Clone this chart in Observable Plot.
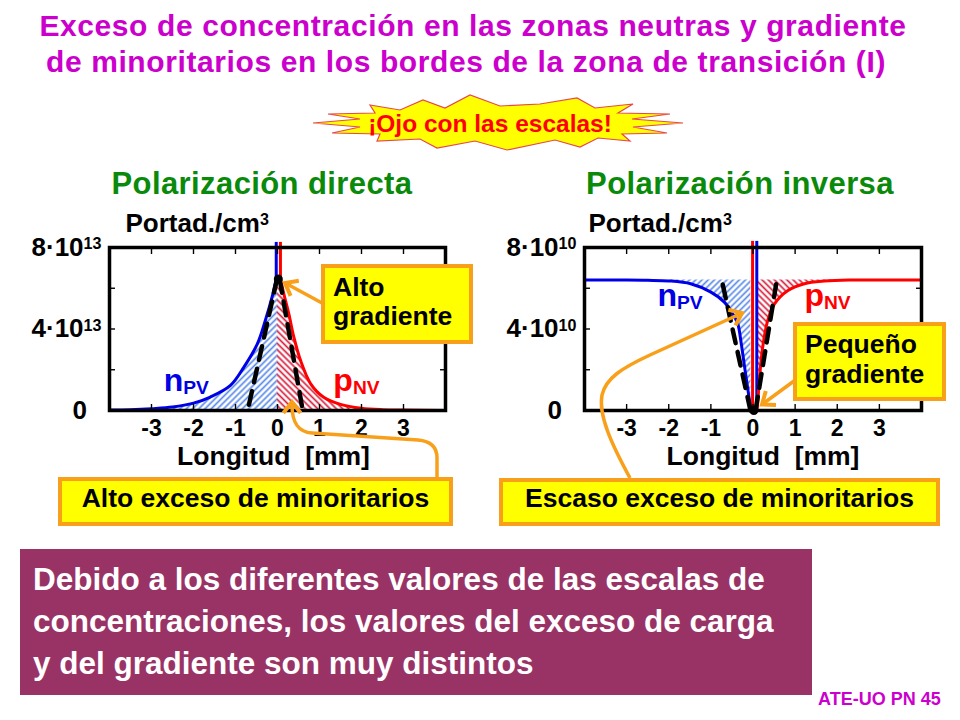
<!DOCTYPE html>
<html lang="es">
<head>
<meta charset="utf-8">
<title>Exceso de concentración en las zonas neutras</title>
<script src="https://cdn.jsdelivr.net/npm/d3@7"></script>
<script src="https://cdn.jsdelivr.net/npm/@observablehq/plot@0.6"></script>
<style>
  html,body{margin:0;padding:0;background:#fff;}
  #slide{position:relative;width:960px;height:720px;overflow:hidden;background:#fff;
    font-family:Arial,"Liberation Sans",Helvetica,sans-serif;font-weight:bold;}
  .abs{position:absolute;}
  .title{color:#CC00CC;font-size:30px;line-height:36px;white-space:nowrap;text-align:center;letter-spacing:0.6px;}
  .pol{color:#0A8A0A;font-size:31px;line-height:36px;text-align:center;white-space:nowrap;letter-spacing:0.4px;}
  .box{position:absolute;box-sizing:border-box;background:#FFFF00;border:4px solid #F9A01B;color:#000;white-space:nowrap;font-size:26.5px;}
  .chart{position:absolute;width:480px;height:275px;}
  .chart svg{background:transparent !important;overflow:visible;}
  #purple{position:absolute;left:20px;top:549px;width:792px;height:146px;box-sizing:border-box;background:#993366;color:#fff;
    font-size:31.5px;line-height:42px;padding:9px 0 0 13px;white-space:nowrap;}
  #footer{position:absolute;left:818px;top:689px;font-size:18px;line-height:20px;color:#CC00CC;white-space:nowrap;}
</style>
</head>
<body>
<div id="slide">
  <div class="abs title" style="left:0;top:7.6px;width:946px">Exceso de concentración en las zonas neutras y gradiente</div>
  <div class="abs title" style="left:0;top:43.6px;width:932px">de minoritarios en los bordes de la zona de transición (I)</div>

  <svg id="burst" class="abs" style="left:0;top:0" width="960" height="160">
    <defs>
      <pattern id="hatchBlue" patternUnits="userSpaceOnUse" width="4.4" height="4.4" patternTransform="rotate(45)">
        <line x1="2.2" y1="-1" x2="2.2" y2="5.4" stroke="#5A8AE6" stroke-width="1.7"/>
      </pattern>
      <pattern id="hatchRed" patternUnits="userSpaceOnUse" width="4.4" height="4.4" patternTransform="rotate(-45)">
        <line x1="2.2" y1="-1" x2="2.2" y2="5.4" stroke="#D81E3C" stroke-width="1.7"/>
      </pattern>
    </defs>
    <polygon fill="#FFFF00" stroke="#E8484A" stroke-width="1.2"
      points="313,123 360,119 328,114 375,113 370,105 400,110 423,100 445,108 470,95 500,106 540,104 577,98 595,108 633,104 618,113 670,114 632,119 683,123 633,127 667,133 622,134 630,141 598,138 580,147 555,140 507,150 475,141 437,148 420,139 377,141 380,134 332,133 360,127"/>
    <text x="490" y="132" text-anchor="middle" fill="#FF0000" font-size="24.5" font-weight="bold"
      font-family="Arial, 'Liberation Sans', sans-serif">¡Ojo con las escalas!</text>
  </svg>

  <div class="abs pol" style="left:0;top:165.7px;width:524px">Polarización directa</div>
  <div class="abs pol" style="left:480px;top:165.7px;width:520px">Polarización inversa</div>

  <div id="leftChart" class="chart" style="left:0;top:200px"></div>
  <div id="rightChart" class="chart" style="left:480px;top:200px"></div>

  <svg id="arrows" class="abs" style="left:0;top:0;pointer-events:none" width="960" height="720"></svg>

  <div class="box" style="left:321px;top:264px;width:152px;height:80px;line-height:28.5px;padding:5px 0 0 8px;">Alto<br>gradiente</div>
  <div class="box" style="left:793px;top:322px;width:153px;height:79px;line-height:30px;padding:3px 0 0 8px;">Pequeño<br>gradiente</div>
  <div class="box" style="left:58px;top:477px;width:395px;height:49px;line-height:34px;text-align:center;">Alto exceso de minoritarios</div>
  <div class="box" style="left:499px;top:478px;width:441px;height:48px;line-height:33px;text-align:center;">Escaso exceso de minoritarios</div>

  <div id="purple">Debido a los diferentes valores de las escalas de<br>concentraciones, los valores del exceso de carga<br>y del gradiente son muy distintos</div>
  <div id="footer">ATE-UO PN 45</div>
</div>

<script>
// ---------------- data ----------------
const xDomain = [-4, 4];
const yDomain = [0, 8];
const xTicks = [-3, -2, -1, 0, 1, 2, 3];
const yMinorTicks = [2, 4, 6];
const yLabelTicks = [0, 4, 8];
const fwdExp = 13;   // forward bias: ×10^13 portadores/cm^3
const revExp = 10;   // reverse bias: ×10^10 portadores/cm^3

// Forward bias (Polarización directa), units of 1e13
const fwdNpvX = [-4.0, -3.5, -3.0, -2.5, -2.0, -1.6, -1.12, -0.8, -0.48, -0.29, -0.13, -0.03];
const fwdNpvY = [0.02, 0.04, 0.09, 0.17, 0.36, 0.66, 1.23, 2.13, 3.27, 4.42, 5.56, 6.46];
const fwdPnvX = [0.07, 0.15, 0.27, 0.39, 0.55, 0.79, 1.1, 1.5, 2.0, 2.5, 3.0, 4.0];
const fwdPnvY = [6.46, 5.73, 4.74, 3.6, 2.45, 1.31, 0.65, 0.3, 0.11, 0.04, 0.02, 0.0];
const fwdPeak = 6.46;
const fwdVertN = [-0.03, 6.46, 8.25];   // x, from, to
const fwdVertP = [0.07, 6.46, 8.25];
const fwdTangentN = [[-0.01, 6.46], [-0.71, 0]];
const fwdTangentP = [[0.05, 6.46], [0.6, 0]];
const fwdDot = [[0.02, 6.46]];
const fwdHatch = [-2.5, 0, 2.5];        // blue from, split, red to

// Reverse bias (Polarización inversa), units of 1e10
const revEq = 6.4;
const revNpvX = [-4.0, -3.0, -2.5, -2.0, -1.48, -1.0, -0.68, -0.48, -0.36, -0.29, -0.21, -0.13, -0.06, -0.05];
const revNpvY = [6.4, 6.4, 6.39, 6.36, 6.22, 5.81, 5.32, 4.74, 4.25, 3.44, 2.29, 1.15, 0.16, 0.0];
const revPnvX = [0.09, 0.11, 0.15, 0.23, 0.35, 0.51, 0.83, 1.22, 1.7, 2.3, 3.0, 4.0];
const revPnvY = [0.0, 0.33, 1.47, 3.1, 4.42, 5.23, 5.89, 6.22, 6.35, 6.4, 6.4, 6.4];
const revVertN = [0.09, 0.0, 8.3];
const revVertP = [-0.01, 0.0, 8.3];
const revTangentN = [[-0.06, 0], [-0.72, 6.2]];
const revTangentP = [[0.06, 0], [0.55, 6.2]];
const revDot = [[0.02, 0]];
const revHatch = [-2.0, 2.3];

// text labels
const yLabel = "Portad./cm^{3}";
const xLabel = "Longitud\u00a0 [mm]";
const fwdLabels = [{text: "n_{PV}", x: -2.71, y: 1.48, color: "#0000E6"}, {text: "p_{NV}", x: 1.33, y: 1.48, color: "#FF0000"}];
const revLabels = [{text: "n_{PV}", x: -2.27, y: 5.65, color: "#0000E6"}, {text: "p_{NV}", x: 1.22, y: 5.65, color: "#FF0000"}];

// ---------------- helpers ----------------
const blue = "#0000E6", red = "#FF0000";
const pts = (xs, ys) => xs.map((x, i) => ({x, y: ys[i]}));
const TICK = 6;

function chart(o) {
  return Plot.plot({
    width: 480, height: 275,
    marginTop: 47, marginBottom: 65, marginLeft: o.ml, marginRight: o.mr,
    x: {domain: xDomain, label: null},
    y: {domain: yDomain, label: null},
    style: "font-family: Arial, 'Liberation Sans', sans-serif; font-weight: bold; overflow: visible; background: transparent; color: #000;",
    marks: [
      Plot.areaY(o.nHatch, {x: "x", y1: "y1", y2: "y2", fill: "url(#hatchBlue)", curve: "catmull-rom"}),
      Plot.areaY(o.pHatch, {x: "x", y1: "y1", y2: "y2", fill: "url(#hatchRed)", curve: "catmull-rom"}),
      ...o.verticals.map(v => Plot.ruleX([v], {x: "x", y1: "y1", y2: "y2", stroke: v.color, strokeWidth: 3})),
      Plot.line(o.n, {x: "x", y: "y", stroke: blue, strokeWidth: 3, curve: "catmull-rom"}),
      Plot.line(o.p, {x: "x", y: "y", stroke: red, strokeWidth: 3, curve: "catmull-rom"}),
      ...o.tangents.map(t => Plot.line(t, {x: d => d[0], y: d => d[1], stroke: "#000", strokeWidth: 4.5, strokeDasharray: "14,9"})),
      Plot.dot(o.dots, {x: d => d[0], y: d => d[1], r: 4.5, fill: "#000"}),
      // inward-pointing tick marks on all four sides
      Plot.axisX(xTicks, {anchor: "bottom", tickSize: TICK, dy: -TICK, fill: "none", strokeWidth: 1.4}),
      Plot.axisX(xTicks, {anchor: "top", tickSize: TICK, dy: TICK, fill: "none", strokeWidth: 1.4}),
      Plot.axisY(yMinorTicks, {anchor: "left", tickSize: TICK, dx: TICK, fill: "none", strokeWidth: 1.4}),
      Plot.axisY(yMinorTicks, {anchor: "right", tickSize: TICK, dx: -TICK, fill: "none", strokeWidth: 1.4}),
      Plot.frame({stroke: "#000", strokeWidth: 3.5}),
      Plot.axisX(xTicks, {anchor: "bottom", tickSize: 0, tickPadding: 9, fontSize: 23, fontWeight: "bold", tickFormat: d => String(d)}),
      Plot.axisY(yLabelTicks, {anchor: "left", tickSize: 0, tickPadding: 8, fontSize: 26, fontWeight: "bold",
        tickFormat: d => d === 0 ? "0\u2007" : `${d}·10^{${o.exp}}`}),
      Plot.text([yLabel], {text: d => d, frameAnchor: "top-left", dx: o.portadDx, dy: -24.3, textAnchor: "start", lineAnchor: "middle", fontSize: 26, fontWeight: "bold", fill: "#000"}),
      Plot.text([xLabel], {text: d => d, frameAnchor: "bottom", dx: o.longDx, dy: 46.5, lineAnchor: "middle", fontSize: 26.5, fontWeight: "bold", fill: "#000"}),
      ...o.labels.map(l => Plot.text([l], {x: "x", y: "y", text: "text", fill: l.color, fontSize: 32, fontWeight: "bold", textAnchor: "start", lineAnchor: "middle"}))
    ]
  });
}

function richify(root) {
  const ns = "http://www.w3.org/2000/svg";
  root.querySelectorAll("text").forEach(t => {
    if (t.querySelector("tspan")) return;
    const s = t.textContent;
    if (!/[\^_]\{/.test(s)) return;
    const fs = parseFloat(getComputedStyle(t).fontSize) || 16;
    t.textContent = "";
    const re = /([\^_])\{([^}]*)\}/g;
    let last = 0, m, back = 0;
    while ((m = re.exec(s))) {
      if (m.index > last) {
        const ts = document.createElementNS(ns, "tspan");
        ts.textContent = s.slice(last, m.index);
        if (back) { ts.setAttribute("dy", back); back = 0; }
        t.appendChild(ts);
      }
      const sup = m[1] === "^";
      const d = sup ? -0.26 * fs : 0.12 * fs;
      const sp = document.createElementNS(ns, "tspan");
      sp.setAttribute("dy", d);
      sp.setAttribute("font-size", (sup ? 0.62 : 0.6) * fs);
      sp.textContent = m[2];
      t.appendChild(sp);
      back = -d;
      last = re.lastIndex;
    }
    if (last < s.length) {
      const ts = document.createElementNS(ns, "tspan");
      ts.textContent = s.slice(last);
      if (back) ts.setAttribute("dy", back);
      t.appendChild(ts);
    }
  });
}

// ---------------- forward-bias chart ----------------
const fN = pts(fwdNpvX, fwdNpvY), fP = pts(fwdPnvX, fwdPnvY);
const left = chart({
  ml: 109, mr: 35, exp: fwdExp, portadDx: 16, longDx: -4,
  n: fN, p: fP,
  nHatch: fN.filter(d => d.x >= fwdHatch[0]).concat([{x: fwdHatch[1], y: fwdPeak}]).map(d => ({x: d.x, y1: 0, y2: d.y})),
  pHatch: [{x: fwdHatch[1], y: fwdPeak}].concat(fP.filter(d => d.x <= fwdHatch[2])).map(d => ({x: d.x, y1: 0, y2: d.y})),
  verticals: [{x: fwdVertN[0], y1: fwdVertN[1], y2: fwdVertN[2], color: blue}, {x: fwdVertP[0], y1: fwdVertP[1], y2: fwdVertP[2], color: red}],
  tangents: [fwdTangentN, fwdTangentP],
  dots: fwdDot,
  labels: fwdLabels
});
document.getElementById("leftChart").appendChild(left);

// ---------------- reverse-bias chart ----------------
const rN = pts(revNpvX, revNpvY), rP = pts(revPnvX, revPnvY);
const right = chart({
  ml: 104, mr: 39, exp: revExp, portadDx: 4, longDx: 10,
  n: rN, p: rP,
  nHatch: rN.filter(d => d.x >= revHatch[0]).map(d => ({x: d.x, y1: d.y, y2: revEq})),
  pHatch: rP.filter(d => d.x <= revHatch[1]).map(d => ({x: d.x, y1: d.y, y2: revEq})),
  verticals: [{x: revVertP[0], y1: revVertP[1], y2: revVertP[2], color: red}, {x: revVertN[0], y1: revVertN[1], y2: revVertN[2], color: blue}],
  tangents: [revTangentN, revTangentP],
  dots: revDot,
  labels: revLabels
});
document.getElementById("rightChart").appendChild(right);

richify(left);
richify(right);

// ---------------- orange annotation arrows ----------------
const orange = "#F9A01B";
const arrows = [
  {d: "M322,303 L287,284", tip: [285, 283], back: [322, 303]},
  {d: "M437,478 L437,458 C437,446 430,441 418,440 L312,433 C299,432 292,424 292,405", tip: [292, 402], back: [292, 422]},
  {d: "M630,478 C612,445 598,415 602,395 C606,378 622,368 650,355 L740,314", tip: [742, 313], back: [650, 355]},
  {d: "M794,381 L764,403", tip: [762, 404.5], back: [794, 381]}
];
const asvg = d3.select("#arrows");
arrows.forEach(a => {
  asvg.append("path").attr("d", a.d).attr("fill", "none").attr("stroke", orange).attr("stroke-width", 3.5);
  const dx = a.back[0] - a.tip[0], dy = a.back[1] - a.tip[1];
  const L = Math.hypot(dx, dy), ux = dx / L, uy = dy / L;
  const ang = 38 * Math.PI / 180, len = 14;
  const arm = s => [a.tip[0] + len * (ux * Math.cos(s * ang) - uy * Math.sin(s * ang)),
                    a.tip[1] + len * (ux * Math.sin(s * ang) + uy * Math.cos(s * ang))];
  const p1 = arm(1), p2 = arm(-1);
  asvg.append("polyline").attr("points", `${p1} ${a.tip} ${p2}`)
    .attr("fill", "none").attr("stroke", orange).attr("stroke-width", 4).attr("stroke-linejoin", "miter");
});
</script>
</body>
</html>
